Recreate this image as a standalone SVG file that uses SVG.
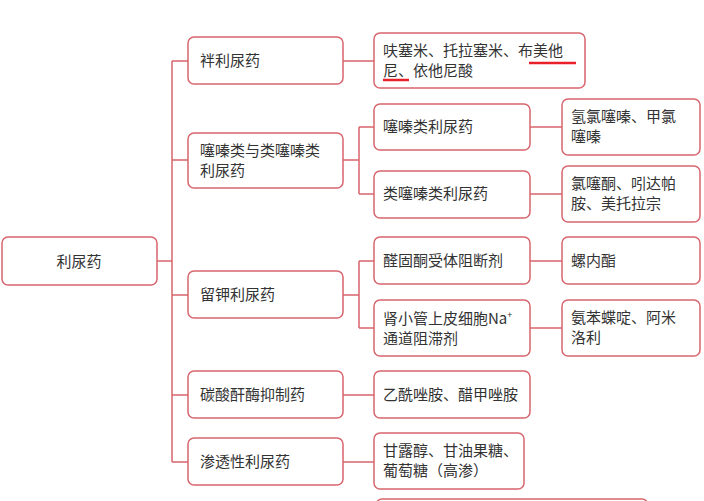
<svg xmlns="http://www.w3.org/2000/svg" width="704" height="501" viewBox="0 0 704 501">
<style>
rect{fill:#fff;stroke:#d8666e;stroke-width:1.5}
.c path{fill:none;stroke:#d8666e;stroke-width:1.5}
text{font-family:"Noto Sans CJK SC","Liberation Serif",serif;font-size:15px;fill:#333}
.u{stroke:#e8202a;stroke-width:2.5}
</style>
<rect width="704" height="501" style="stroke:none"/>
<g class="c">
<path d="M157 261H172M172 61V462M172 61H188M172 160H188M172 295H188M172 395H188M172 462H188"/>
<path d="M343 61H374M343 160H359M359 127V194M359 127H374M359 194H374M530 127H562M530 194H562"/>
<path d="M343 295H359M359 261V328M359 261H374M359 328H374M530 261H562M530 328H562M343 395H374M343 462H374"/>
</g>
<g id="root"><rect x="2" y="237" width="155" height="48" rx="6"/><text x="79" y="267" text-anchor="middle">利尿药</text></g>
<g id="n1"><rect x="188" y="37" width="155" height="47" rx="6"/><text x="200" y="66">袢利尿药</text></g>
<g id="n2"><rect x="188" y="133" width="155" height="55" rx="6"/><text x="200" y="156">噻嗪类与类噻嗪类</text><text x="200" y="176">利尿药</text></g>
<g id="n3"><rect x="188" y="271" width="155" height="47" rx="6"/><text x="200" y="300">留钾利尿药</text></g>
<g id="n4"><rect x="188" y="371" width="155" height="47" rx="6"/><text x="200" y="400">碳酸酐酶抑制药</text></g>
<g id="n5"><rect x="188" y="438" width="155" height="47" rx="6"/><text x="200" y="467">渗透性利尿药</text></g>
<g id="n1a"><rect x="374" y="33" width="211" height="55" rx="6"/><text x="383" y="56">呋塞米、托拉塞米、布美他</text><text x="383" y="76">尼、依他尼酸</text>
<line class="u" x1="529" y1="63" x2="576" y2="63"/><line class="u" x1="383" y1="80" x2="409" y2="80"/></g>
<g id="n2a"><rect x="374" y="104" width="156" height="46" rx="6"/><text x="383" y="132">噻嗪类利尿药</text></g>
<g id="n2b"><rect x="374" y="171" width="156" height="47" rx="6"/><text x="383" y="199">类噻嗪类利尿药</text></g>
<g id="n3a"><rect x="374" y="237" width="156" height="47" rx="6"/><text x="383" y="266">醛固酮受体阻断剂</text></g>
<g id="n3b"><rect x="374" y="300" width="156" height="56" rx="6"/><text x="383" y="324">肾小管上皮细胞Na<tspan dy="-6" font-size="9">+</tspan></text><text x="383" y="344">通道阻滞剂</text></g>
<g id="n4a"><rect x="374" y="371" width="156" height="47" rx="6"/><text x="383" y="400">乙酰唑胺、醋甲唑胺</text></g>
<g id="n5a"><rect x="374" y="433" width="150" height="56" rx="6"/><text x="383" y="456">甘露醇、甘油果糖、</text><text x="383" y="476">葡萄糖（高渗）</text></g>
<g id="n2a1"><rect x="562" y="99" width="138" height="56" rx="6"/><text x="571" y="122">氢氯噻嗪、甲氯</text><text x="571" y="142">噻嗪</text></g>
<g id="n2b1"><rect x="562" y="166" width="138" height="56" rx="6"/><text x="571" y="189">氯噻酮、吲达帕</text><text x="571" y="209">胺、美托拉宗</text></g>
<g id="n3a1"><rect x="562" y="237" width="138" height="47" rx="6"/><text x="571" y="266">螺内酯</text></g>
<g id="n3b1"><rect x="562" y="300" width="138" height="56" rx="6"/><text x="571" y="323">氨苯蝶啶、阿米</text><text x="571" y="343">洛利</text></g>
<g id="n6"><rect x="376" y="499" width="272" height="30" rx="6"/></g>
</svg>
